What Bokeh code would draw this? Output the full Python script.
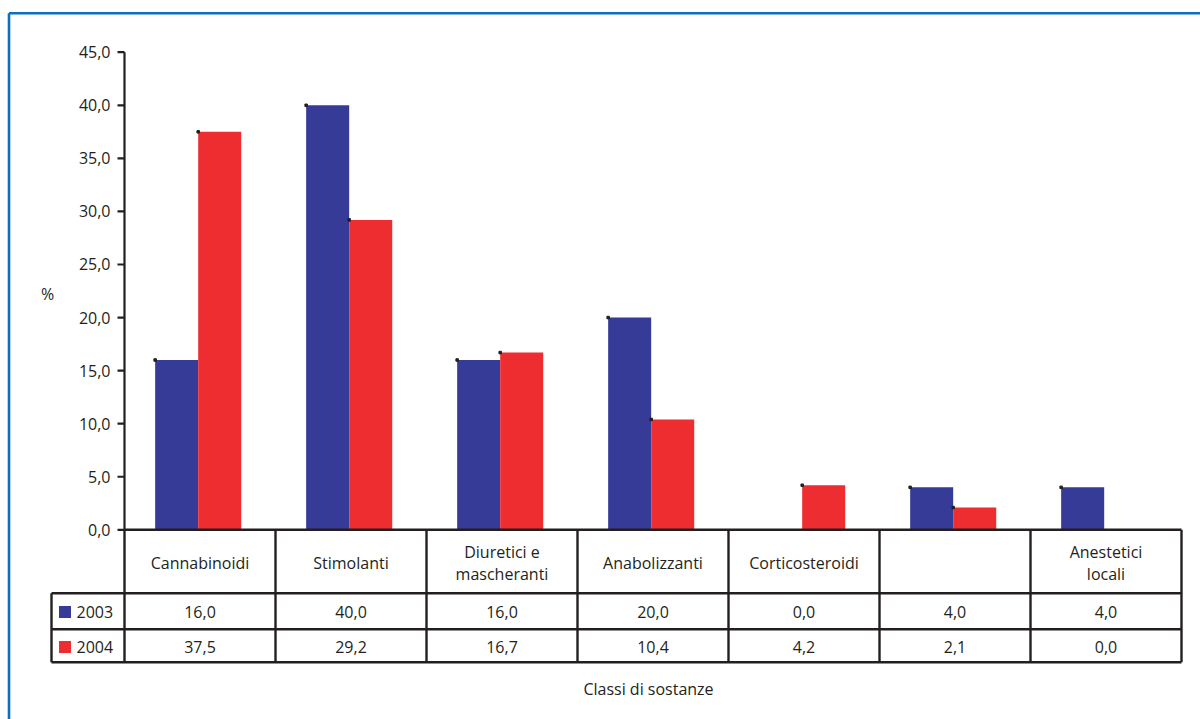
from bokeh.plotting import figure
from bokeh.models import Range1d, ColumnDataSource
from bokeh.core.properties import value
from bokeh.embed import file_html
from bokeh.resources import INLINE

# ---- data -------------------------------------------------------------
categories = ["Cannabinoidi", "Stimolanti", "Diuretici e\nmascheranti",
              "Anabolizzanti", "Corticosteroidi", "", "Anestetici\nlocali"]
years = ["2003", "2004"]
values_2003 = [16.0, 40.0, 16.0, 20.0, 0.0, 4.0, 4.0]
values_2004 = [37.5, 29.2, 16.7, 10.4, 4.2, 2.1, 0.0]
y_ticks = [0, 5, 10, 15, 20, 25, 30, 35, 40, 45]
y_label = "%"
x_label = "Classi di sostanze"

colors = {"2003": "#353b96", "2004": "#ee2d31"}
INK = "#231f20"
FRAME_BLUE = "#0b70c0"
FONT = value("Open Sans")
FS = "16px"

W, H = 1200, 719
# screen layout: category band starts at x0 and each band is `band` px wide;
# zero of the value scale sits at y0 and one unit is `unit` px tall
x0, band = 124.0, 151.0
y0, unit = 529.3, 10.613


def dx(px):
    return (px - x0) / band


def dy(py):
    return (y0 - py) / unit


def fmt(v):
    return f"{v:.1f}".replace(".", ",")


n = len(categories)
p = figure(width=W, height=H, output_backend="svg", toolbar_location=None,
           x_range=Range1d(dx(0), dx(W)), y_range=Range1d(dy(H), dy(0)),
           x_axis_type=None, y_axis_type=None, min_border=0,
           outline_line_color=None, background_fill_color="white",
           border_fill_color="white")
p.xgrid.visible = False
p.ygrid.visible = False

# ---- bars ---------------------------------------------------------------
bar_w = 0.285
group_shift = -0.012
centers = [i + 0.5 for i in range(n)]
series = {"2003": values_2003, "2004": values_2004}
for k, yr in enumerate(years):
    xs = [c + group_shift + (k - 0.5) * bar_w for c in centers]
    vals = series[yr]
    p.vbar(x=xs, top=vals, bottom=0, width=bar_w,
           fill_color=colors[yr], line_color=None)
    # small marker at the upper-left corner of each non-empty bar
    lx = [x - bar_w / 2 for x, v in zip(xs, vals) if v > 0]
    ly = [v for v in vals if v > 0]
    p.scatter(x=lx, y=ly, marker="square", size=2.5, color=INK)

# ---- value axis -------------------------------------------------------------
tick_len = dx(x0) - dx(x0 - 7)
p.segment(x0=[0], y0=[y_ticks[-1]], x1=[0], y1=[0], line_color=INK, line_width=2.2)
p.segment(x0=[-tick_len] * len(y_ticks), y0=y_ticks, x1=[0] * len(y_ticks), y1=y_ticks,
          line_color=INK, line_width=2.2)
p.text(x=[dx(110)] * len(y_ticks), y=y_ticks, text=[fmt(t) for t in y_ticks],
       text_font=FONT, text_font_size=FS, text_color=INK,
       text_align="right", text_baseline="middle")
p.text(x=[dx(47)], y=[dy(293)], text=[y_label], text_font=FONT,
       text_font_size=FS, text_color=INK, text_align="center",
       text_baseline="middle")

# ---- data table under the bars ------------------------------------------
row_top = 0
row_1 = dy(592.7)
row_2 = dy(628.7)
row_bot = dy(661.7)
left_edge = dx(51)

# horizontal rules
p.segment(x0=[0, left_edge, left_edge, left_edge], y0=[row_top, row_1, row_2, row_bot],
          x1=[n] * 4, y1=[row_top, row_1, row_2, row_bot],
          line_color=INK, line_width=2.4)
# vertical rules
p.segment(x0=list(range(n + 1)), y0=[row_top] * (n + 1),
          x1=list(range(n + 1)), y1=[row_bot] * (n + 1),
          line_color=INK, line_width=2.4)
p.segment(x0=[left_edge], y0=[row_1], x1=[left_edge], y1=[row_bot],
          line_color=INK, line_width=2.4)

# category names
p.text(x=centers, y=[dy(562)] * n, text=categories, text_font=FONT,
       text_font_size=FS, text_color=INK, text_align="center",
       text_baseline="middle", text_line_height=1.0)

# values per year, with legend swatch and year label
row_centres = {"2003": dy(611.5), "2004": dy(646.5)}
for yr in years:
    yc = row_centres[yr]
    cell = ColumnDataSource(dict(x=centers, y=[yc] * n,
                                 t=[fmt(v) for v in series[yr]]))
    p.text(x="x", y="y", text="t", source=cell, text_font=FONT,
           text_font_size=FS, text_color=INK, text_align="center",
           text_baseline="middle")
    p.scatter(x=[dx(64.5)], y=[yc], marker="square", size=12,
              fill_color=colors[yr], line_color=None)
    p.text(x=[dx(76)], y=[yc], text=[yr], text_font=FONT,
           text_font_size=FS, text_color=INK, text_align="left",
           text_baseline="middle")

# category axis title
p.text(x=[dx(648)], y=[dy(688)], text=[x_label], text_font=FONT,
       text_font_size=FS, text_color=INK, text_align="center",
       text_baseline="middle")

# ---- blue frame around the figure ------------------------------------------
p.segment(x0=[dx(8.5), dx(8.5)], y0=[dy(12.7), dy(12.7)],
          x1=[dx(8.5), dx(W + 20)], y1=[dy(H + 20), dy(12.7)],
          line_color=FRAME_BLUE, line_width=2.6)

open("out.html", "w").write(file_html(p, INLINE))
